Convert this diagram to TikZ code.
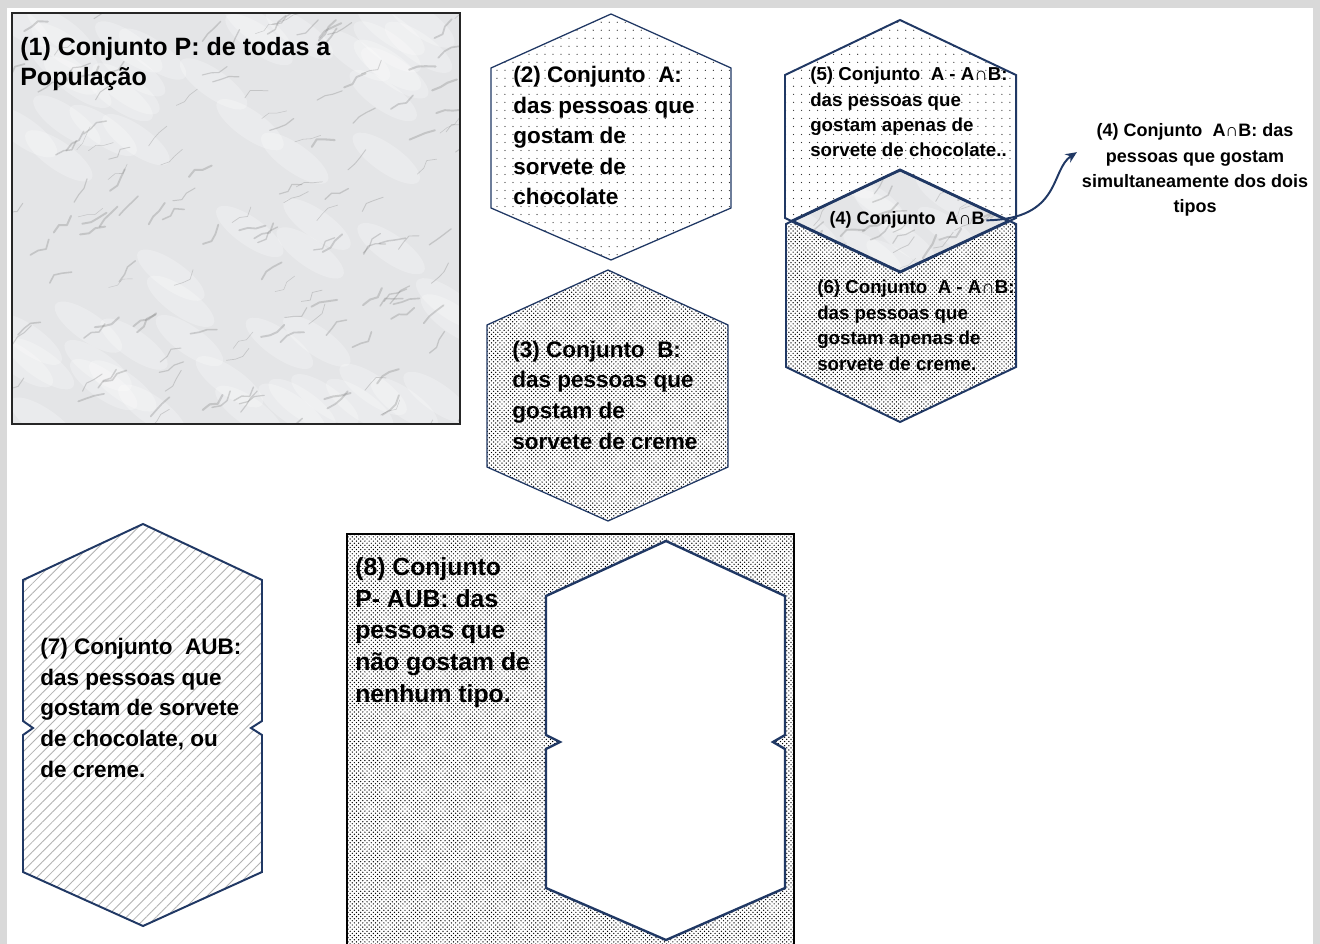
\documentclass[tikz,border=0pt]{standalone}
\usepackage{fontspec}
\setmainfont{Liberation Sans}
\usetikzlibrary{patterns,patterns.meta,arrows.meta}
\definecolor{navy}{RGB}{32,56,100}
\definecolor{framegray}{RGB}{217,217,217}
\definecolor{marblebase}{RGB}{228,229,231}

\begin{document}
\begin{tikzpicture}[x=0.025cm,y=-0.025cm,
    bigtxt/.style={font=\bfseries\fontsize{17.8}{22}\selectfont,align=left,anchor=base west,inner sep=0pt},
    midtxt/.style={font=\bfseries\fontsize{16}{21.7}\selectfont,align=left,anchor=base west,inner sep=0pt},
    smalltxt/.style={font=\bfseries\fontsize{12.8}{18.1}\selectfont,align=left,anchor=base west,inner sep=0pt},
    sparsedots/.style={pattern={Dots[distance=5.7pt,radius=0.45pt]},pattern color=black!80},
    densedots/.style={pattern=crosshatch dots,pattern color=black},
    hatched/.style={pattern={Lines[angle=45,distance=5pt,line width=0.6pt]},pattern color=black!30},
    vein/.style={black!55,opacity=.28,line cap=round,line join=round},
    hexline/.style={draw=navy,line width=1.4pt,line join=miter}]
    \useasboundingbox (0,0) rectangle (1320,944);
    \fill[framegray] (0,0) rectangle (1320,944);
    \fill[white] (7,8) rectangle (1313,944);

    % (1) population: marble square
    \begin{scope}
        \clip (12,13) rectangle (460,424);
        \fill[marblebase] (12,13) rectangle (460,424);
        \pgfmathsetseed{17}
        \foreach \i in {1,...,60}{
            \pgfmathsetmacro\bx{12+rnd*448}
            \pgfmathsetmacro\by{13+rnd*411}
            \fill[white,opacity=.25,rotate around={-35:(\bx,\by)}] (\bx,\by) ellipse [x radius=40,y radius=14];
        }
        \foreach \i in {1,...,150}{
            \pgfmathsetmacro\vx{rnd*470}
            \pgfmathsetmacro\vy{13+rnd*430}
            \pgfmathsetmacro\va{-35+rnd*60-30}
            \pgfmathsetmacro\vb{-35+rnd*80-40}
            \pgfmathsetmacro\vc{-35+rnd*80-40}
            \pgfmathsetmacro\vw{0.3+rnd*1.2}
            \draw[vein,line width=\vw pt] (\vx,\vy) -- ++(\va:9) -- ++(\vb:8) -- ++(\vc:10);
        }
    \end{scope}
    \draw[black!85,line width=1.8pt] (12,13) rectangle (460,424);
    \node[bigtxt] (setP) at (20,86) {(1) Conjunto P: de todas a\\População};

    % (2) and (3): sets A and B
    \draw[draw=navy,line width=0.9pt,sparsedots] (611,14) -- (731,68) -- (731,208) -- (611,260) -- (491,208) -- (491,68) -- cycle;
    \node[midtxt] (setA) at (513,205) {(2) Conjunto~ A:\\das pessoas que\\gostam de\\sorvete de\\chocolate};
    \draw[draw=navy,line width=0.9pt,densedots] (608,270) -- (728,325) -- (728,467) -- (608,521) -- (487,467) -- (487,325) -- cycle;
    \node[midtxt] (setB) at (512,449) {(3) Conjunto~ B:\\das pessoas que\\gostam de\\sorvete de creme};

    % (5), (6) and the intersection (4)
    \fill[densedots] (900,170) -- (1016,224) -- (1016,367) -- (900,422) -- (786,367) -- (786,224) -- cycle;
    \fill[white] (900,20) -- (1016,75) -- (1016,218) -- (900,272) -- (785,218) -- (785,75) -- cycle;
    \fill[sparsedots] (900,20) -- (1016,75) -- (1016,218) -- (900,272) -- (785,218) -- (785,75) -- cycle;
    \begin{scope}
        \clip (900,170) -- (1009,221) -- (900,272) -- (792,221) -- cycle;
        \fill[marblebase] (790,168) rectangle (1012,274);
        \pgfmathsetseed{5}
        \foreach \i in {1,...,10}{
            \pgfmathsetmacro\bx{792+rnd*216}
            \pgfmathsetmacro\by{170+rnd*100}
            \fill[white,opacity=.25,rotate around={-35:(\bx,\by)}] (\bx,\by) ellipse [x radius=35,y radius=12];
        }
        \foreach \i in {1,...,40}{
            \pgfmathsetmacro\vx{785+rnd*230}
            \pgfmathsetmacro\vy{170+rnd*110}
            \pgfmathsetmacro\va{-35+rnd*60-30}
            \pgfmathsetmacro\vb{-35+rnd*80-40}
            \pgfmathsetmacro\vc{-35+rnd*80-40}
            \pgfmathsetmacro\vw{0.3+rnd*1.2}
            \draw[vein,line width=\vw pt] (\vx,\vy) -- ++(\va:9) -- ++(\vb:8) -- ++(\vc:10);
        }
    \end{scope}
    \draw[hexline] (900,170) -- (1016,224) -- (1016,367) -- (900,422) -- (786,367) -- (786,224) -- cycle;
    \draw[hexline] (900,20) -- (1016,75) -- (1016,218) -- (900,272) -- (785,218) -- (785,75) -- cycle;
    \draw[navy,line width=2pt,line join=miter] (900,170) -- (1009,221) -- (900,272) -- (792,221) -- cycle;
    \node[smalltxt,font=\bfseries\fontsize{13.3}{18.1}\selectfont] (setAminus) at (810,157) {(5) Conjunto~ A - A∩B:\\das pessoas que\\gostam apenas de\\sorvete de chocolate..};
    \node[smalltxt,inner sep=1pt] (setAB) at (828,225) {(4) Conjunto~ A∩B};
    \node[smalltxt,font=\bfseries\fontsize{13.3}{18.1}\selectfont] (setBminus) at (817,370) {(6) Conjunto~ A - A∩B:\\das pessoas que\\gostam apenas de\\sorvete de creme.};
    \node[smalltxt,anchor=base,align=center] (descAB) at (1195,213) {(4) Conjunto~ A∩B: das\\pessoas que gostam\\simultaneamente dos dois\\tipos};
    \draw[navy,line width=1.4pt,-{Stealth[length=8pt,width=7pt]}] (setAB.east) .. controls (1062,219) and (1050,170) .. ([xshift=-0.12cm,yshift=0.45cm]descAB.west);

    % (7) union
    \draw[hexline,hatched] (143,524) -- (262,580) -- (262,721) -- (251,728) -- (262,735) -- (262,872) -- (143,926) -- (23,872) -- (23,735) -- (33,728) -- (23,721) -- (23,580) -- cycle;
    \node[midtxt] (setAuB) at (40,777) {(7) Conjunto~ AUB:\\das pessoas que\\gostam de sorvete\\de chocolate, ou\\de creme.};

    % (8) complement
    \fill[densedots] (347,534) rectangle (794,950);
    \draw[black,line width=2pt] (347,950) -- (347,534) -- (794,534) -- (794,950);
    \draw[draw=navy,line width=1.7pt,line join=miter,fill=white] (666,541) -- (785,596) -- (785,735) -- (773,742) -- (785,749) -- (785,888) -- (666,940) -- (546,888) -- (546,749) -- (560,742) -- (546,735) -- (546,596) -- cycle;
    \node[bigtxt,font=\bfseries\fontsize{17.6}{22.5}\selectfont] (setNone) at (355,702) {(8) Conjunto\\P- AUB: das\\pessoas que\\não gostam de\\nenhum tipo.};
\end{tikzpicture}
\end{document}
